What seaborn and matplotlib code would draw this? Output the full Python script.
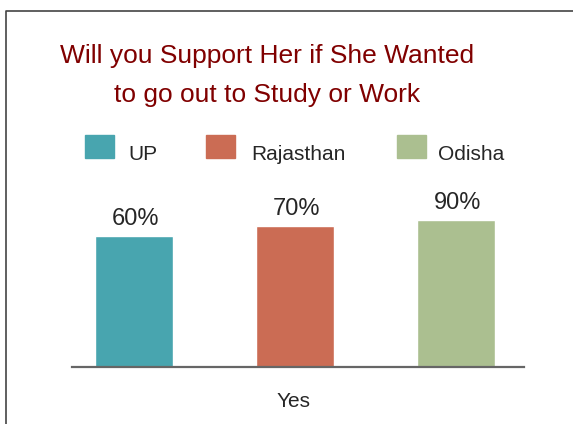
import matplotlib
matplotlib.use("Agg")
import matplotlib.pyplot as plt
import seaborn as sns
import pandas as pd
from matplotlib.lines import Line2D
from matplotlib.patches import Rectangle

# --- Data ---
states = ["UP", "Rajasthan", "Odisha"]
bar_heights = [60, 64.6, 67.3]          # bar heights as drawn in the picture
value_labels = ["60%", "70%", "90%"]    # printed labels
colors = ["#48A5AF", "#CB6C54", "#ABBF90"]
title = "Will you Support Her if She Wanted\nto go out to Study or Work"
category = "Yes"

W, H = 573, 424
sns.set_theme(style="white")
plt.rcParams['font.family'] = ['Liberation Sans', 'DejaVu Sans']

fig = plt.figure(figsize=(W / 100, H / 100), dpi=100)

# axes placed in pixel terms
left, right, base, top = 72, 524, 367, 149
ax = fig.add_axes([left / W, (H - base) / H, (right - left) / W, (base - top) / H])

df = pd.DataFrame({"state": states, "value": bar_heights})
sns.barplot(data=df, x="state", y="value", hue="state", palette=colors,
            width=0.485, ax=ax, legend=False, saturation=1)

ax.set_ylim(0, 100)
ax.set_xlim(-0.385, 2.42)
ax.set_yticks([])
ax.set_xticks([])
ax.set_ylabel("")
ax.set_xlabel(category, fontsize=15, color="#262626")
ax.xaxis.set_label_coords((294 - left) / (right - left), -25 / (base - top))
for s in ["top", "right", "left"]:
    ax.spines[s].set_visible(False)
ax.spines["bottom"].set_color("#666666")
ax.spines["bottom"].set_linewidth(1.6)

for p, lab in zip(ax.patches, value_labels):
    ax.annotate(lab, (p.get_x() + p.get_width() / 2, p.get_height()),
                xytext=(1, 8), textcoords="offset points",
                ha="center", va="baseline", fontsize=17, color="#262626")

# title
fig.text(267 / W, 1 - 75.5 / H, title, ha="center", va="center",
         fontsize=19, color="#800000", linespacing=1.75)

# legend drawn across the top
leg_sq_x = [85, 206, 397]
leg_tx_x = [128, 251, 438]
for sx, tx, name, c in zip(leg_sq_x, leg_tx_x, states, colors):
    fig.patches.append(Rectangle((sx / W, 1 - 158 / H), 29 / W, 23 / H,
                                 transform=fig.transFigure, color=c))
    fig.text(tx / W, 1 - 154 / H, name, ha="left", va="center",
             fontsize=15, color="#262626")

# frame lines (left and top)
fig.add_artist(Line2D([5.5 / W, 5.5 / W, 1], [0, 1 - 11 / H, 1 - 11 / H],
                      transform=fig.transFigure, color="#444444", lw=1.2))

fig.savefig("out.png", dpi=100)
